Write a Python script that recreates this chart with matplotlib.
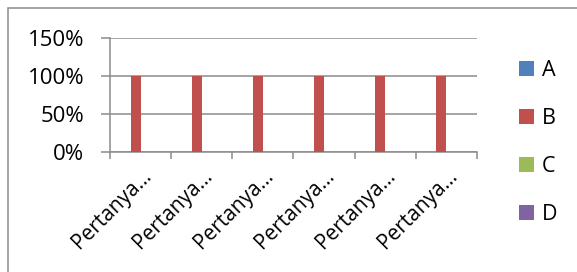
import numpy as np
import matplotlib
matplotlib.use('Agg')
import matplotlib.pyplot as plt
import matplotlib.ticker as mticker
from matplotlib.patches import Rectangle

plt.rcParams.update({
    'font.family': ['Open Sans', 'DejaVu Sans'],
    'font.size': 15,
})

# data
categories = ['Pertanya…'] * 6
series = ['A', 'B', 'C', 'D']
values_A = [0, 0, 0, 0, 0, 0]
values_B = [1.0, 1.0, 1.0, 1.0, 1.0, 1.0]
values_C = [0, 0, 0, 0, 0, 0]
values_D = [0, 0, 0, 0, 0, 0]
colors = ['#4F81BD', '#C0504D', '#9BBB59', '#8064A2']

W, H = 577, 272
fig = plt.figure(figsize=(W / 100, H / 100), dpi=100)
ax = fig.add_axes([110 / W, 1 - 152 / H, 367 / W, 114 / H])

x = np.arange(len(categories))
bw = 0.163
for i, (name, vals) in enumerate(zip(series, [values_A, values_B, values_C, values_D])):
    ax.bar(x + (i - 1.5) * bw, vals, width=bw, color=colors[i], label=name, zorder=3)

ax.set_xlim(-0.5, len(categories) - 0.5)
ax.set_ylim(0, 1.5)
ax.set_yticks([0, 0.5, 1.0, 1.5])
ax.yaxis.set_major_formatter(mticker.FuncFormatter(lambda v, _: f"{v * 100:.0f}%"))
ax.grid(axis='y', color='#8c8c8c', linewidth=1.1, zorder=0)

ax.set_xticks(x)
ax.set_xticklabels(categories, rotation=45, ha='right', rotation_mode='anchor')
ax.set_xticks(np.arange(-0.5, len(categories)), minor=True)
ax.tick_params(axis='x', which='major', length=0, pad=10)
ax.tick_params(axis='x', which='minor', length=5, width=1.1, color='#8c8c8c', direction='out')
ax.tick_params(axis='y', length=6.5, width=1.1, color='#8c8c8c', pad=12, labelsize=16)
ax.tick_params(axis='x', labelsize=15)

for s in ['top', 'right']:
    ax.spines[s].set_visible(False)
for s in ['left', 'bottom']:
    ax.spines[s].set_color('#8c8c8c')
    ax.spines[s].set_linewidth(1.1)

ax.legend(loc='center left', bbox_to_anchor=(519 / W, 1 - 142.5 / H),
          bbox_transform=fig.transFigure, frameon=False, borderpad=0,
          borderaxespad=0, handlelength=0.7, handleheight=0.7,
          handletextpad=0.35, labelspacing=1.25, fontsize=15.5)

fig.patches.append(Rectangle((8 / W, -0.1), 1.1, 1 - 8 / H + 0.1,
                             transform=fig.transFigure, fill=False,
                             edgecolor='#8c8c8c', linewidth=1.1))

fig.savefig('out.png', dpi=100)
